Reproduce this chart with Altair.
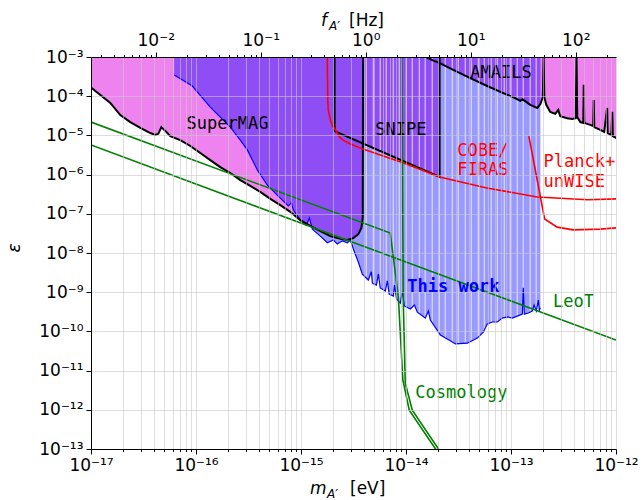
import altair as alt
import pandas as pd
import numpy as np

# ---------------- data (log10 values) ----------------
H_EV_S = 4.135667696e-15  # eV per Hz

supermag_lm = [-17.0, -16.911, -16.816, -16.721, -16.626, -16.530, -16.435, -16.388, -16.359, -16.330,
               -16.311, -16.283, -16.245, -16.150, -16.054, -15.959, -15.864, -15.769, -15.673, -15.578,
               -15.483, -15.388, -15.292, -15.197, -15.102, -15.007, -14.912, -14.816, -14.721, -14.626,
               -14.559, -14.502, -14.454, -14.425, -14.412, -14.409]
supermag_le = [-3.78, -3.97, -4.17, -4.48, -4.66, -4.81, -4.94, -4.99, -4.96, -4.79,
               -4.84, -4.91, -5.02, -5.12, -5.27, -5.45, -5.63, -5.81, -5.96, -6.14,
               -6.29, -6.44, -6.62, -6.78, -6.95, -7.16, -7.31, -7.44, -7.57, -7.64,
               -7.67, -7.62, -7.52, -7.36, -7.11, -3.0]

snipe_lm = [-14.68, -14.68, -13.68, -13.68]
snipe_le = [-3.0, -4.89, -6.06, -3.0]

amails_lm = [-13.807, -13.75, -13.683, -13.550, -13.388, -13.226, -13.074, -12.96, -12.912, -12.89,
             -12.816, -12.769, -12.750, -12.72, -12.697, -12.689, -12.683, -12.664, -12.626, -12.578,
             -12.55, -12.531, -12.465, -12.417, -12.383, -12.376, -12.369, -12.340, -12.312, -12.307,
             -12.302, -12.245, -12.217, -12.212, -12.207, -12.150, -12.112, -12.084, -12.079, -12.045,
             -12.035, -12.030, -11.997]
amails_le = [-3.0, -3.08, -3.15, -3.33, -3.54, -3.74, -3.92, -4.05, -4.12, -4.08,
             -4.22, -4.28, -4.30, -4.20, -4.02, -3.0, -4.02, -4.22, -4.40, -4.45,
             -4.35, -4.51, -4.56, -4.58, -4.56, -3.0, -4.53, -4.66, -4.68, -3.71,
             -4.68, -4.73, -4.76, -4.10, -4.79, -4.86, -4.91, -4.30, -4.94, -4.99,
             -4.40, -5.02, -5.07]

thiswork_lm = [-16.207, -16.035, -15.864, -15.673, -15.578, -15.511, -15.416, -15.321, -15.197, -15.12,
               -15.092, -15.073, -15.007, -14.95, -14.92, -14.892, -14.816, -14.749, -14.692, -14.654,
               -14.606, -14.559, -14.53, -14.492, -14.454, -14.416, -14.359, -14.33, -14.32, -14.282,
               -14.263, -14.245, -14.197, -14.178, -14.16, -14.121, -14.11, -14.09, -14.054, -14.035,
               -14.016, -13.959, -13.92, -13.892, -13.816, -13.787, -13.768, -13.673, -13.578, -13.530,
               -13.416, -13.321, -13.264, -13.226, -13.178, -13.130, -13.083, -13.035, -12.988, -12.94,
               -12.892, -12.883, -12.873, -12.835, -12.797, -12.78, -12.759, -12.74, -12.73, -12.72]
thiswork_le = [-3.46, -3.74, -4.28, -4.79, -5.12, -5.37, -5.88, -6.27, -6.60, -6.80,
               -6.72, -6.90, -7.16, -7.29, -7.11, -7.39, -7.57, -7.74, -7.67, -7.77,
               -7.69, -7.74, -7.67, -7.97, -8.23, -8.54, -8.69, -8.48, -8.77, -8.82,
               -8.54, -8.89, -8.97, -8.71, -9.05, -9.10, -8.82, -9.17, -9.28, -8.99,
               -9.35, -9.43, -9.33, -9.51, -9.66, -9.48, -9.71, -10.09, -10.24, -10.32,
               -10.30, -10.17, -10.02, -9.81, -9.76, -9.76, -9.66, -9.63, -9.66, -9.61,
               -9.56, -8.89, -9.56, -9.53, -9.48, -9.33, -9.48, -9.20, -9.46, -9.40]

# masses where the "This work" band has small gaps (seen as light stripes)
gap_lm = [-14.378, -14.311, -14.245, -14.188, -14.121, -14.064, -13.997, -13.940, -13.873, -13.817,
          -13.750, -13.683, -13.626, -13.559, -13.502, -13.435, -13.378, -13.311, -13.254, -13.188,
          -13.130, -13.064, -13.007, -12.940, -12.883, -12.817, -12.760]

cobe_lm = [-14.75, -14.745, -14.74, -14.72, -14.70, -14.67, -14.64, -14.60, -14.53, -14.41,
           -14.03, -13.67, -13.23, -12.75, -12.27, -12.0]
cobe_le = [-3.0, -4.10, -4.35, -4.61, -4.76, -4.86, -5.02, -5.12, -5.22, -5.35,
           -5.70, -6.07, -6.34, -6.57, -6.64, -6.62]

planck_lm = [-12.83, -12.68, -12.56, -12.41, -12.15, -12.0]
planck_le = [-5.02, -7.13, -7.34, -7.41, -7.39, -7.36]

leot_lm = [-17.0, -12.0]
leot_le = [-5.245, -10.22]

cosmo_a_lm = [-17.0, -14.15, -14.073, -14.030, -13.969, -13.711]
cosmo_a_le = [-4.66, -7.49, -9.12, -11.24, -12.01, -13.03]
cosmo_b_lm = [-14.040, -14.026, -14.007, -13.940, -13.683]
cosmo_b_le = [-3.0, -9.20, -11.32, -12.01, -13.03]

# text labels: (text, log10 m, log10 eps, colour)
label_text = ["SuperMAG", "SNIPE", "AMAILS", "COBE/", "FIRAS", "Planck+", "unWISE", "LeoT", "Cosmology"]
label_lm = [-16.09, -14.293, -13.388, -13.511, -13.511, -12.69, -12.69, -12.60, -13.911]
label_le = [-4.71, -4.86, -3.41, -5.41, -5.88, -5.69, -6.19, -9.25, -11.57]
label_col = ["black", "black", "black", "red", "red", "red", "red", "green", "green"]

EPS_TOP = 1e-3
EPS_BOTTOM = 1e-13

# ---------------- helpers ----------------
def frame(lm, le):
    assert len(lm) == len(le)
    return pd.DataFrame({"m": 10.0 ** np.array(lm), "eps": 10.0 ** np.array(le),
                         "i": np.arange(len(lm)), "top": EPS_TOP})

SUP = "'\u2070\u00b9\u00b2\u00b3\u2074\u2075\u2076\u2077\u2078\u2079'"
E = "round(log(datum.value)/LN10)"
IS_MAJOR = f"abs(datum.value/pow(10,{E})-1)<1e-6"
LABEL_EXPR = (f"{IS_MAJOR} ? '10' + ({E}<0 ? '\u207b' : '') + "
              f"(abs({E})>=10 ? substring({SUP}, floor(abs({E})/10), floor(abs({E})/10)+1) : '') + "
              f"substring({SUP}, abs({E})%10, abs({E})%10+1) : ''")
TICK_SIZE = {"condition": {"test": IS_MAJOR, "value": 5}, "value": 2.5}

xticks = [k * 10.0 ** n for n in range(-17, -12) for k in range(1, 10)] + [1e-12]
yticks = [10.0 ** n for n in range(-13, -2)]
f_lo, f_hi = 1e-17 / H_EV_S, 1e-12 / H_EV_S
hz_ticks = [k * 10.0 ** n for n in range(-3, 3) for k in range(1, 10) if f_lo <= k * 10.0 ** n <= f_hi]

xscale = alt.Scale(type="log", domain=[1e-17, 1e-12], nice=False)
yscale = alt.Scale(type="log", domain=[EPS_BOTTOM, EPS_TOP], nice=False)
xaxis = alt.Axis(values=xticks, labelExpr=LABEL_EXPR, tickSize=TICK_SIZE, grid=True, title=None,
                 labelPadding=3, labelFlush=False, labelOverlap=False, zindex=1)
yaxis = alt.Axis(values=yticks, labelExpr=LABEL_EXPR, tickSize=5, grid=True, title=None,
                 labelPadding=3, labelFlush=False, labelOverlap=False, zindex=1)


def X(f="m"):
    return alt.X(f"{f}:Q", scale=xscale, axis=xaxis)


def Y(f="eps"):
    return alt.Y(f"{f}:Q", scale=yscale, axis=yaxis)


def area(df, color, opacity=1.0):
    return alt.Chart(df).mark_area(color=color, opacity=opacity, clip=True).encode(
        x=X(), y=Y(), y2="top:Q")


def line(df, color, width):
    return alt.Chart(df).mark_line(color=color, strokeWidth=width, clip=True).encode(
        x=X(), y=Y(), order="i:Q")


supermag = frame(supermag_lm, supermag_le)
snipe = frame(snipe_lm, snipe_le)
amails = frame(amails_lm, amails_le)
thiswork = frame(thiswork_lm, thiswork_le)
gaps = pd.DataFrame({"m": 10.0 ** np.array(gap_lm), "eps": EPS_BOTTOM, "top": EPS_TOP})

layers = [
    area(supermag, "#EE82EE"),
    area(snipe.iloc[1:3], "#EE82EE"),
    area(amails, "#EE82EE"),
    area(thiswork, "blue", 0.4),
    alt.Chart(gaps).mark_rule(color="white", opacity=0.6, strokeWidth=1.3, clip=True).encode(
        x=X(), y=Y(), y2="top:Q"),
    line(thiswork, "blue", 1.2),
    line(supermag, "black", 2),
    line(snipe, "black", 2),
    line(amails, "black", 2),
    line(frame(cobe_lm, cobe_le), "red", 1.6),
    line(frame(planck_lm, planck_le), "red", 1.6),
    line(frame(leot_lm, leot_le), "green", 1.6),
    line(frame(cosmo_a_lm, cosmo_a_le), "green", 1.6),
    line(frame(cosmo_b_lm, cosmo_b_le), "green", 1.6),
]

labels = pd.DataFrame({"t": label_text, "m": 10.0 ** np.array(label_lm),
                       "eps": 10.0 ** np.array(label_le), "c": label_col})
layers.append(alt.Chart(labels).mark_text(align="left", baseline="middle", font="DejaVu Sans Mono",
                                          fontSize=17).encode(
    x=X(), y=Y(), text="t:N", color=alt.Color("c:N", scale=None)))
work = pd.DataFrame({"t": ["This work"], "m": [10.0 ** -13.988], "eps": [10.0 ** -8.87]})
layers.append(alt.Chart(work).mark_text(align="left", baseline="middle", font="DejaVu Sans Mono",
                                        fontSize=17, fontWeight="bold", color="blue").encode(
    x=X(), y=Y(), text="t:N"))

# axis titles (mathtext-like pieces)
def ttext(s, x, y, size=17, style="normal", angle=0, align="left"):
    return alt.Chart(pd.DataFrame({"t": [s]})).mark_text(
        align=align, baseline="alphabetic", font="DejaVu Sans", fontSize=size, fontStyle=style,
        angle=angle, color="black").encode(x=alt.value(x), y=alt.value(y), text="t:N")

layers += [
    ttext("m", 219, 437, style="italic"),
    ttext("A\u2032", 236, 441, size=12, style="italic"),
    ttext("[eV]", 259, 437),
    ttext("f", 230, -31, style="italic"),
    ttext("A\u2032", 238, -27, size=12, style="italic"),
    ttext("[Hz]", 258, -31),
    ttext("\u03b5", -71, 191, style="italic", angle=270, align="center"),
]

main = alt.layer(*layers)

hz = alt.Chart(pd.DataFrame({"f": [f_lo, f_hi]})).mark_point(opacity=0).encode(
    x=alt.X("f:Q", scale=alt.Scale(type="log", domain=[f_lo, f_hi], nice=False),
            axis=alt.Axis(orient="top", values=hz_ticks, labelExpr=LABEL_EXPR, tickSize=TICK_SIZE,
                          grid=False, title=None, labelPadding=3, labelFlush=False,
                          labelOverlap=False, zindex=1)),
    y=alt.value(0))

chart = alt.layer(main, hz).resolve_scale(x="independent").properties(
    width=525, height=392, autosize="none",
    padding={"left": 91, "top": 57, "right": 26, "bottom": 51},
).configure_axis(
    labelFont="DejaVu Sans", labelFontSize=17, labelColor="black",
    domainColor="black", domainWidth=1, tickColor="black", tickWidth=1,
    gridColor="#c8c8c8", gridOpacity=0.6, gridWidth=1,
).configure_view(stroke=None)

chart.save("out.html", embed_options={"renderer": "svg", "actions": False})
